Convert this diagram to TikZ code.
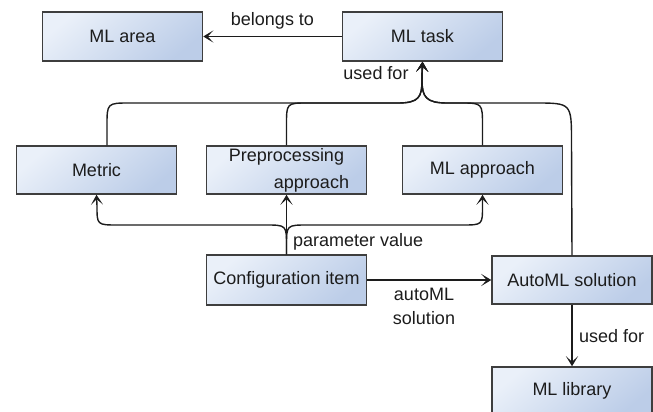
\documentclass[tikz,border=0pt]{standalone}
\usepackage{fontspec}
\setmainfont{Liberation Sans}
\usetikzlibrary{arrows.meta,calc}
\definecolor{boxA}{HTML}{EAF0F9}
\definecolor{boxB}{HTML}{BCCDE8}
\definecolor{ink}{HTML}{1C1C1C}
\tikzset{
  box/.style={draw=ink!85, line width=1.5pt, minimum width=160pt, minimum height=49pt,
    inner sep=0pt, top color=boxA, bottom color=boxB, shading angle=40,
    text=ink, font=\fontsize{18}{27}\selectfont},
  lbl/.style={text=ink, font=\fontsize{18}{24}\selectfont, inner sep=0pt},
  conn/.style={draw=ink, line width=1.4pt},
  arr/.style={conn, -{Stealth[length=10pt,width=12pt,inset=5.5pt]}}
}
\begin{document}
\begin{tikzpicture}[x=1pt,y=-1pt]
\useasboundingbox (0,0) rectangle (653,412);
% boxes
\node[box] (area)   at (122.5,36.5) {ML area};
\node[box] (task)   at (422.5,36.5) {ML task};
\node[box, minimum height=48pt] (metric) at (96.5,170) {Metric};
\node[box, minimum height=48pt, align=right] (prep) at (286.5,170) {Preprocessing\\approach\hspace*{-5pt}};
\node[box, minimum height=48pt] (appr)   at (482.5,170) {ML approach};
\node[box, minimum height=50pt] (conf)   at (286.5,280) {Configuration item};
\node[box, minimum height=48pt] (auto)   at (572,280) {AutoML solution};
\node[box, minimum height=48pt] (lib)    at (572,391) {ML library};
% belongs to
\draw[arr] (task.west) -- (area.east) node[lbl, midway, above=7pt] (lbelong) {belongs to};
% used for -> ML task
\draw[arr] ([xshift=10.5pt]metric.north) -- (107,126) .. controls (107,103) .. (130,103) -- (398,103)
   .. controls (419,103) and (422,97) .. (422,80) -- (task.south);
\draw[arr] (prep.north) -- (286.5,125) .. controls (286.5,103) .. (308,103) -- (398,103)
   .. controls (419,103) and (422,97) .. (422,80) -- (task.south);
\draw[arr] (appr.north) -- (482.5,126) .. controls (482.5,103) .. (460,103) -- (447,103)
   .. controls (426,103) and (422,97) .. (422,80) -- (task.south);
\draw[arr] (auto.north) -- (571.5,142) .. controls (571.5,103) .. (535,103) -- (447,103)
   .. controls (426,103) and (422,97) .. (422,80) -- (task.south);
\node[lbl] (lused1) at (376,73) {used for};
% parameter value
\draw[arr] (conf.north) -- (prep.south);
\draw[arr] (conf.north) -- (286.5,246) .. controls (286.5,225) .. (265,225) -- (118,225)
   .. controls (97,225) .. (97,206) -- (metric.south);
\draw[arr] (conf.north) -- (286.5,246) .. controls (286.5,225) .. (308,225) -- (462,225)
   .. controls (482.5,225) .. (482.5,206) -- (appr.south);
\node[lbl, anchor=west] (lparam) at (293,242) {parameter value};
% autoML solution
\draw[arr] (conf.east) -- (auto.west);
\node[lbl, align=center] (lauto) at (424,306) {autoML\\solution};
% used for -> ML library
\draw[arr] (auto.south) -- (lib.north);
\node[lbl, anchor=west] (lused2) at (579,336) {used for};
\end{tikzpicture}
\end{document}
